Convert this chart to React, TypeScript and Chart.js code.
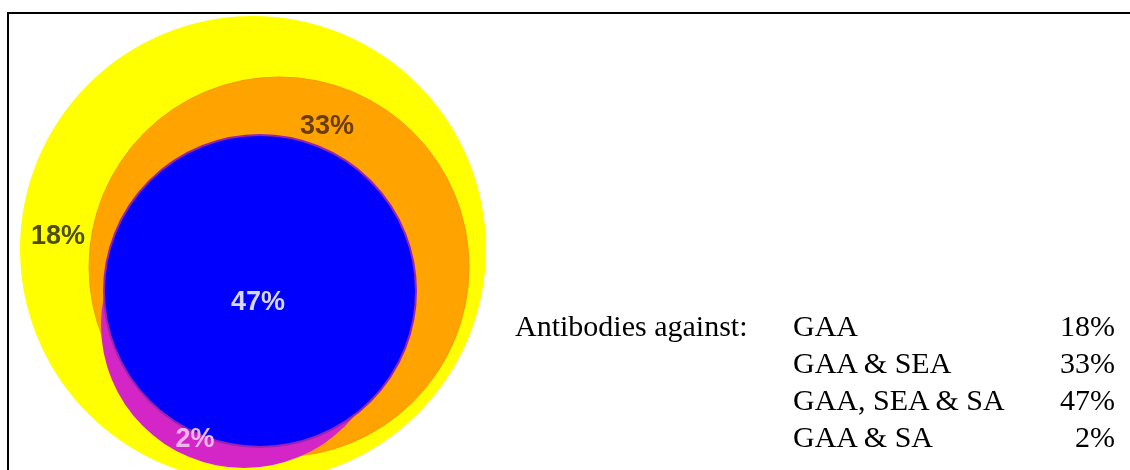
import React, { useEffect, useRef } from "react";
import { Chart, registerables } from "chart.js";

Chart.register(...registerables);

// ---- data ----
const legendTitle = "Antibodies against:";
const categories = ["GAA", "GAA & SEA", "GAA, SEA & SA", "GAA & SA"];
const percentages = [18, 33, 47, 2];

// circles of the diagram (diagram units), listed bottom layer first
const circleNames = ["GAA", "GAA & SEA", "GAA & SA", "GAA, SEA & SA"];
const circleX = [253, 279, 244, 260];
const circleY = [249, 267, 325, 291];
const circleR = [233, 190, 143, 156];

// label anchor for each category (diagram units: centre x, baseline y)
const labelX = [58, 327, 258, 195];
const labelY = [244, 134, 310, 447];

// ---- styles ----
const circleFill = ["#ffff00", "#ffa300", "#d426c6", "#0000ff"];
const circleStroke = ["#ffff00", "#f59a00", "#d426c6", "#9a22b0"];
const circleStrokeWidth = [0, 1, 0, 2];
const labelColors = ["#4e4e00", "#6a3c00", "#d6d6ff", "#f3b6ee"];

const W = 1130;
const H = 470;

const labelPlugin = {
  id: "vennLabels",
  afterDatasetsDraw(chart: any) {
    const { ctx, scales } = chart;
    const sx = scales.x;
    const sy = scales.y;
    ctx.save();
    ctx.font = 'bold 27px "Liberation Sans", Arial, sans-serif';
    ctx.textAlign = "center";
    ctx.textBaseline = "alphabetic";
    percentages.forEach((p, i) => {
      ctx.fillStyle = labelColors[i];
      ctx.fillText(`${p}%`, sx.getPixelForValue(labelX[i]), sy.getPixelForValue(labelY[i]));
    });
    ctx.restore();
  },
};

export default function App() {
  const ref = useRef<HTMLCanvasElement>(null);

  useEffect(() => {
    const canvas = ref.current;
    if (!canvas) return;
    const radiusFor = (ctx: any) => {
      const raw = ctx.raw;
      const sx = ctx.chart.scales.x;
      if (!raw || !sx) return 0;
      return Math.abs(sx.getPixelForValue(raw.r) - sx.getPixelForValue(0));
    };
    const datasets = circleNames.map((name, i) => ({
      label: name,
      data: [{ x: circleX[i], y: circleY[i], r: circleR[i] }],
      order: circleNames.length - i,
      pointRadius: radiusFor,
      pointHoverRadius: radiusFor,
      pointBackgroundColor: circleFill[i],
      pointBorderColor: circleStroke[i],
      pointBorderWidth: circleStrokeWidth[i],
      pointHoverBorderWidth: circleStrokeWidth[i],
      showLine: false,
      clip: false as any,
    }));
    const chart = new Chart(canvas, {
      type: "scatter",
      data: { datasets },
      options: {
        responsive: false,
        animation: false,
        events: [],
        devicePixelRatio: 1,
        layout: { padding: 0 },
        scales: {
          x: { type: "linear", min: 0, max: W, display: false },
          y: { type: "linear", min: 0, max: H, reverse: true, display: false },
        },
        plugins: {
          legend: { display: false },
          tooltip: { enabled: false },
        },
      },
      plugins: [labelPlugin],
    });
    return () => chart.destroy();
  }, []);

  const rowTop = 307;
  const rowGap = 37;
  const textStyle: React.CSSProperties = {
    position: "absolute",
    fontFamily: '"Liberation Serif", "Times New Roman", serif',
    fontSize: 30,
    lineHeight: "37px",
    height: 37,
    whiteSpace: "nowrap",
    color: "#000",
  };

  return (
    <div
      style={{
        position: "fixed",
        left: 0,
        top: 0,
        width: W,
        height: H,
        overflow: "hidden",
        background: "#fff",
      }}
    >
      <div
        style={{
          position: "absolute",
          left: 7,
          top: 12,
          width: W + 20,
          height: H + 20,
          borderTop: "2px solid #000",
          borderLeft: "2px solid #000",
          boxSizing: "border-box",
        }}
      />
      <canvas
        ref={ref}
        width={W}
        height={H}
        style={{ position: "absolute", left: 0, top: 0, width: W, height: H }}
      />
      <div style={{ ...textStyle, left: 515, top: rowTop }}>{legendTitle}</div>
      {categories.map((c, i) => (
        <React.Fragment key={c}>
          <div style={{ ...textStyle, left: 793, top: rowTop + rowGap * i }}>{c}</div>
          <div
            style={{
              ...textStyle,
              right: W - 1115,
              top: rowTop + rowGap * i,
              textAlign: "right",
            }}
          >
            {`${percentages[i]}%`}
          </div>
        </React.Fragment>
      ))}
    </div>
  );
}
